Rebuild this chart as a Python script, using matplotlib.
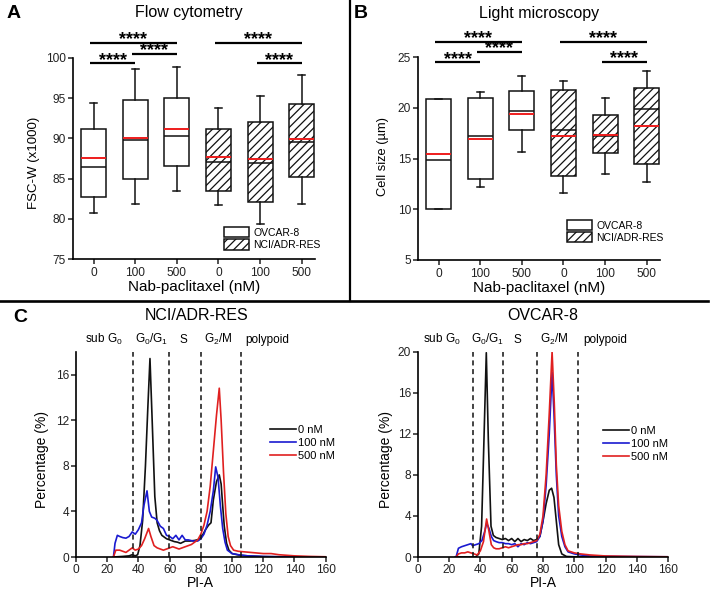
import matplotlib
matplotlib.use('Agg')
import matplotlib.pyplot as plt
from matplotlib.lines import Line2D
from matplotlib.patches import Patch
import numpy as np

plt.rcParams['font.family'] = ['Liberation Sans', 'DejaVu Sans']
plt.rcParams['mathtext.fontset'] = 'custom'
plt.rcParams['mathtext.rm'] = 'Liberation Sans'
plt.rcParams['mathtext.it'] = 'Liberation Sans:italic'
plt.rcParams['hatch.linewidth'] = 0.9
plt.rcParams['axes.linewidth'] = 1.2

# ---------------- data: panel A (flow cytometry, FSC-W x1000) ----------------
dose_labels = ['0', '100', '500', '0', '100', '500']
lines_names = ['OVCAR-8', 'NCI/ADR-RES']

A_ovcar_whislo = [80.7, 81.8, 83.5]
A_ovcar_q1 = [82.7, 84.9, 86.6]
A_ovcar_med = [86.5, 89.8, 90.3]
A_ovcar_mean = [87.6, 90.1, 91.2]
A_ovcar_q3 = [91.2, 94.8, 95.0]
A_ovcar_whishi = [94.4, 98.6, 98.8]

A_nci_whislo = [81.7, 79.4, 81.9]
A_nci_q1 = [83.5, 82.1, 85.2]
A_nci_med = [87.1, 87.0, 89.5]
A_nci_mean = [87.7, 87.4, 89.9]
A_nci_q3 = [91.2, 92.0, 94.2]
A_nci_whishi = [93.8, 95.3, 97.9]

# significance brackets: (from group, to group, level)
A_sig = [(0, 1, 99.3), (1, 2, 100.5), (0, 2, 101.8), (3, 5, 101.8), (4, 5, 99.3)]

# ---------------- data: panel B (light microscopy, cell size um) ----------------
B_ovcar_whislo = [10.0, 12.2, 15.7]
B_ovcar_q1 = [10.0, 13.0, 17.8]
B_ovcar_med = [14.9, 17.2, 19.7]
B_ovcar_mean = [15.5, 16.9, 19.4]
B_ovcar_q3 = [20.9, 21.0, 21.7]
B_ovcar_whishi = [20.9, 21.6, 23.2]

B_nci_whislo = [11.6, 13.5, 12.7]
B_nci_q1 = [13.3, 15.6, 14.5]
B_nci_med = [17.8, 17.2, 19.9]
B_nci_mean = [17.2, 17.3, 18.2]
B_nci_q3 = [21.8, 19.3, 22.0]
B_nci_whishi = [22.7, 21.0, 23.6]

B_sig = [(0, 1, 24.5), (1, 2, 25.5), (0, 2, 26.55), (3, 5, 26.55), (4, 5, 24.55)]

# ---------------- data: panel C (cell cycle histograms) ----------------
dose_names = ['0 nM', '100 nM', '500 nM']
curve_colors = ['#111111', '#1a1ad0', '#e02020']

nci_0_x = [24, 30, 34, 36, 38, 39.5, 41, 42.7, 44.5, 46, 47.4, 48.8, 50.5, 52, 53.5, 55, 58, 60, 63, 65, 67, 70,
           73, 76, 79, 81, 83, 85, 86.5, 88, 90, 91.8, 93, 94, 95, 96.5, 98, 100, 105, 110, 120, 160]
nci_0_y = [0, 0.05, 0.1, 0.2, 0.1, 0.2, 1.0, 3.2, 8.0, 13.0, 17.4, 12.0, 5.3, 3.0, 2.3, 1.9, 1.6, 1.5, 1.35, 1.3,
           1.2, 1.4, 1.4, 1.45, 1.55, 1.9, 2.4, 2.8, 3.0, 5.0, 6.6, 7.2, 6.4, 4.5, 2.7, 1.2, 0.6, 0.3, 0.15, 0.1,
           0.03, 0]

nci_100_x = [24, 25, 26.5, 28, 30, 32, 34, 36, 38, 40, 42, 43.5, 45.5, 47, 48.5, 50.5, 52, 54, 56, 58, 60, 62, 64,
             66, 68, 70, 72, 75, 78, 80, 82, 84, 86, 88, 89.5, 91, 92.5, 94, 95.5, 97, 100, 104, 110, 120, 130, 160]
nci_100_y = [0, 1.2, 1.9, 1.8, 1.7, 1.65, 1.8, 2.2, 2.0, 2.4, 3.0, 4.5, 5.8, 4.0, 3.5, 3.4, 3.2, 2.7, 2.5, 1.9,
             1.8, 1.6, 1.9, 1.5, 1.9, 1.5, 1.5, 1.4, 1.4, 1.6, 2.0, 2.8, 4.0, 5.8, 7.9, 7.0, 4.5, 2.5, 1.3, 0.6,
             0.3, 0.2, 0.1, 0.05, 0.02, 0]

nci_500_x = [24, 25.5, 28, 30, 32, 34, 36, 38, 40, 42, 44, 46.5, 48, 50, 52, 54, 56, 58, 60, 62, 64, 66, 68, 70,
             72, 74, 76, 78, 80, 82, 84, 86, 88, 90, 91.8, 93, 94.5, 96, 97.5, 99, 101, 104, 108, 112, 116, 120,
             125, 130, 135, 140, 150, 160]
nci_500_y = [0, 0.6, 0.6, 0.5, 0.4, 0.6, 0.8, 0.6, 0.7, 1.0, 1.6, 2.5, 1.8, 1.0, 0.8, 0.7, 0.6, 0.7, 0.8, 0.9,
             0.8, 0.7, 0.8, 0.9, 1.0, 1.1, 1.3, 1.5, 2.0, 2.8, 4.0, 6.2, 9.3, 12.4, 14.8, 12.0, 7.5, 3.8, 1.8,
             1.0, 0.6, 0.5, 0.45, 0.4, 0.35, 0.3, 0.3, 0.2, 0.15, 0.1, 0.05, 0.02]

ov_0_x = [24, 37, 39, 40.8, 42.3, 43.8, 45.1, 46.8, 48.3, 50, 52, 54, 56, 58, 60, 62, 64, 66, 68, 70, 72, 74, 76,
          78, 80, 82, 84, 85.5, 87, 88.5, 90, 92, 95, 100, 160]
ov_0_y = [0, 0, 0.3, 3.0, 11.4, 19.9, 11.4, 3.0, 2.1, 1.9, 1.8, 1.7, 1.8, 1.6, 1.8, 1.5, 1.8, 1.5, 1.7, 1.6, 1.8,
          1.6, 1.7, 2.0, 3.5, 5.2, 6.5, 6.7, 5.8, 3.5, 1.2, 0.3, 0.05, 0.02, 0]

ov_100_x = [24.5, 26, 28, 30, 32, 34, 35, 37, 39, 41, 43, 44, 45.5, 47, 48.5, 50, 52, 54, 56, 58, 60, 62, 64, 66,
            68, 70, 72, 74, 76, 78, 80, 82, 84, 85.8, 87, 88.5, 90, 92, 94, 96, 100, 104, 110, 130, 160]
ov_100_y = [0, 0.85, 1.0, 1.1, 1.2, 1.3, 1.1, 1.2, 1.3, 1.6, 2.6, 3.3, 2.8, 2.0, 1.6, 1.5, 1.4, 1.4, 1.3, 1.3,
            1.2, 1.3, 1.0, 1.3, 1.2, 1.4, 1.3, 1.4, 1.5, 2.0, 3.5, 7.0, 12.0, 18.0, 14.0, 8.0, 4.0, 2.0, 1.0, 0.5,
            0.3, 0.2, 0.1, 0.05, 0.02]

ov_500_x = [24.5, 26, 28, 30, 32, 34, 36, 38, 40, 42, 44, 45.5, 47, 48.5, 50, 52, 54, 56, 58, 60, 62, 64, 66, 68,
            70, 72, 74, 76, 78, 80, 82, 84, 85.8, 87.2, 88.5, 90, 92, 94, 96, 100, 104, 110, 120, 140, 160]
ov_500_y = [0, 0.3, 0.4, 0.4, 0.5, 0.4, 0.3, 0.2, 0.6, 1.5, 3.7, 2.5, 1.2, 0.9, 0.8, 0.8, 0.9, 1.0, 0.9, 1.0,
            1.1, 1.2, 1.2, 1.3, 1.3, 1.4, 1.5, 1.6, 2.2, 4.0, 8.0, 14.0, 20.0, 15.0, 9.0, 5.0, 2.5, 1.2, 0.6, 0.4,
            0.3, 0.2, 0.1, 0.05, 0.02]

# gate boundaries and phase labels
nci_gates = [36.5, 59.8, 79.8, 105.5]
ov_gates = [35.5, 54.3, 76.2, 102.2]
phase_labels = ['sub G$_\\mathregular{0}$', 'G$_\\mathregular{0}$/G$_\\mathregular{1}$', 'S',
                'G$_\\mathregular{2}$/M', 'polypoid']
nci_phase_x = [18, 48.5, 68.8, 91.2, 122.8]
ov_phase_x = [15.7, 44.7, 63.9, 87.2, 119.6]

# ---------------------------------------------------------------------------
W, H = 711, 590
fig = plt.figure(figsize=(W / 100, H / 100), dpi=100)


def axes_px(l, r, t, b):
    return fig.add_axes([l / W, 1 - b / H, (r - l) / W, (b - t) / H])


def style_axes(ax):
    ax.spines['top'].set_visible(False)
    ax.spines['right'].set_visible(False)
    ax.tick_params(direction='out', length=3.3, width=1.1, labelsize=8.6, colors='#222222')
    ax.tick_params(axis='y', pad=1.5)
    ax.tick_params(axis='x', pad=2.2)


def box_panel(ax, ov, nc, ylim, yticks, ylabel, ylabel_size, ylabel_xy, sig, leg_xy):
    stats = []
    for arrs in (ov, nc):
        wl, q1, md, mn, q3, wh = arrs
        for i in range(3):
            stats.append(dict(whislo=wl[i], q1=q1[i], med=md[i], mean=mn[i], q3=q3[i], whishi=wh[i], fliers=[]))
    pos = np.arange(len(stats))
    b = ax.bxp(stats, positions=pos, widths=0.6, capwidths=0.17, patch_artist=True, showmeans=True,
               meanline=True, showfliers=False,
               boxprops=dict(facecolor='white', edgecolor='#111111', linewidth=1.1),
               medianprops=dict(color='#111111', linewidth=1.1),
               meanprops=dict(color='#ee1c1c', linewidth=1.4, linestyle='-'),
               whiskerprops=dict(color='#111111', linewidth=1.1),
               capprops=dict(color='#111111', linewidth=1.1))
    for p in b['boxes'][3:]:
        p.set_hatch('////')
    ax.set_xlim(-0.5, 5.32)
    ax.set_ylim(*ylim)
    ax.spines['left'].set_bounds(*ylim)
    ax.set_yticks(yticks)
    ax.set_xticks(pos)
    ax.set_xticklabels(dose_labels)
    ax.set_ylabel(ylabel, fontsize=ylabel_size)
    ax.yaxis.set_label_coords(*ylabel_xy)
    ax.set_xlabel('Nab-paclitaxel (nM)', fontsize=11, labelpad=1)
    style_axes(ax)
    for i, j, y in sig:
        ax.plot([i - 0.08, j], [y, y], color='black', lw=1.6, clip_on=False, solid_capstyle='butt')
        ax.annotate('****', xy=((i - 0.08 + j) / 2, y), xytext=(0, -0.9), textcoords='offset points',
                    ha='center', va='baseline', fontsize=13, fontweight='bold', annotation_clip=False)
    handles = [Patch(facecolor='white', edgecolor='#111111', lw=1.1, label=lines_names[0]),
               Patch(facecolor='white', edgecolor='#111111', lw=1.1, hatch='////', label=lines_names[1])]
    ax.legend(handles=handles, loc='upper left', bbox_to_anchor=leg_xy, frameon=False, fontsize=7.5,
              handlelength=2.4, handleheight=1.15, labelspacing=0.15, handletextpad=0.4,
              borderpad=0, borderaxespad=0)


# Panel A
axA = axes_px(72.7, 315, 57.7, 259.3)
box_panel(axA,
          (A_ovcar_whislo, A_ovcar_q1, A_ovcar_med, A_ovcar_mean, A_ovcar_q3, A_ovcar_whishi),
          (A_nci_whislo, A_nci_q1, A_nci_med, A_nci_mean, A_nci_q3, A_nci_whishi),
          (75, 100), [75, 80, 85, 90, 95, 100], 'FSC-W (x1000)', 9.5, (-0.135, 0.48), A_sig, (0.626, 0.16))

# Panel B
axB = axes_px(417.7, 660, 57.3, 260)
box_panel(axB,
          (B_ovcar_whislo, B_ovcar_q1, B_ovcar_med, B_ovcar_mean, B_ovcar_q3, B_ovcar_whishi),
          (B_nci_whislo, B_nci_q1, B_nci_med, B_nci_mean, B_nci_q3, B_nci_whishi),
          (5, 25), [5, 10, 15, 20, 25], 'Cell size (µm)', 9.3, (-0.12, 0.51), B_sig, (0.616, 0.198))


def hist_panel(ax, series, ylim, yticks, gates, phase_x, leg_xy, ylabel_x):
    for (xs, ys), c, lab in zip(series, curve_colors, dose_names):
        ax.plot(xs, ys, color=c, lw=1.2, label=lab)
    for g in gates:
        ax.axvline(g, color='#111111', lw=1.1, ls=(0, (3.3, 2.4)))
    ax.set_xlim(0, 160)
    ax.set_ylim(*ylim)
    ax.set_xticks(np.arange(0, 161, 20))
    ax.set_yticks(yticks)
    ax.set_xlabel('PI-A', fontsize=10, labelpad=0)
    ax.set_ylabel('Percentage (%)', fontsize=10)
    ax.yaxis.set_label_coords(ylabel_x, 0.477)
    style_axes(ax)
    ax.tick_params(axis='x', pad=1.8)
    for lab, px in zip(phase_labels, phase_x):
        ax.text(px, 1.041, lab, transform=ax.get_xaxis_transform(), ha='center', va='baseline', fontsize=8.5)
    ax.legend(loc='upper left', bbox_to_anchor=leg_xy, frameon=False, fontsize=8, handlelength=2.3,
              handletextpad=0.2, labelspacing=0.3, borderpad=0, borderaxespad=0)


axC1 = axes_px(76, 325.7, 351.7, 557)
hist_panel(axC1, [(nci_0_x, nci_0_y), (nci_100_x, nci_100_y), (nci_500_x, nci_500_y)],
           (0, 18), [0, 4, 8, 12, 16], nci_gates, nci_phase_x, (0.777, 0.645), -0.11)

axC2 = axes_px(417.7, 668.3, 351.7, 557)
hist_panel(axC2, [(ov_0_x, ov_0_y), (ov_100_x, ov_100_y), (ov_500_x, ov_500_y)],
           (0, 20), [0, 4, 8, 12, 16, 20], ov_gates, ov_phase_x, (0.741, 0.64), -0.10)

# titles and panel letters
fig.text(188.8 / W, 1 - 13 / H, 'Flow cytometry', ha='center', va='center', fontsize=11.5)
fig.text(539.2 / W, 1 - 13.3 / H, 'Light microscopy', ha='center', va='center', fontsize=11.5)
fig.text(196.2 / W, 1 - 315 / H, 'NCI/ADR-RES', ha='center', va='center', fontsize=11.5)
fig.text(543 / W, 1 - 315 / H, 'OVCAR-8', ha='center', va='center', fontsize=11.5)
fig.text(13.5 / W, 1 - 14 / H, 'A', ha='center', va='center', fontsize=14, fontweight='bold')
fig.text(361 / W, 1 - 14 / H, 'B', ha='center', va='center', fontsize=14, fontweight='bold')
fig.text(20 / W, 1 - 317 / H, 'C', ha='center', va='center', fontsize=14, fontweight='bold')

# panel dividers
fig.add_artist(Line2D([349.5 / W, 349.5 / W], [1 - 0 / H, 1 - 301 / H], transform=fig.transFigure,
                      color='black', lw=1.6))
fig.add_artist(Line2D([0, 708 / W], [1 - 301 / H, 1 - 301 / H], transform=fig.transFigure,
                      color='black', lw=1.9))

fig.savefig('out.png', dpi=100)
